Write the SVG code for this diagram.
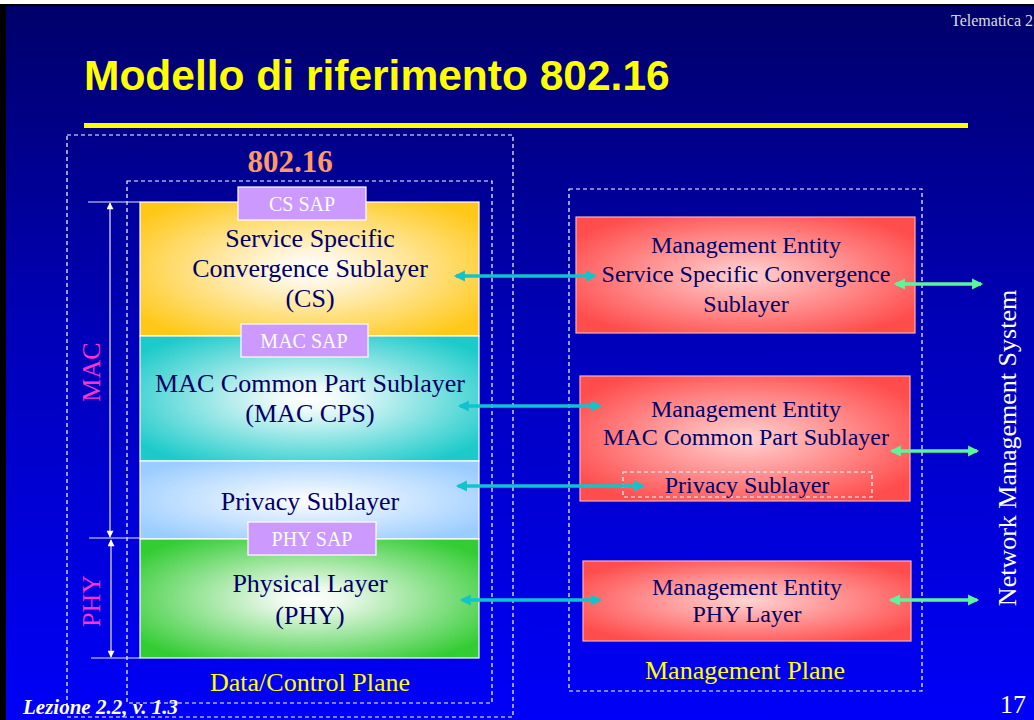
<svg xmlns="http://www.w3.org/2000/svg" width="1034" height="720" viewBox="0 0 1034 720">
<defs>
<linearGradient id="bg" x1="0" y1="0" x2="0" y2="1">
<stop offset="0" stop-color="#00006a"/>
<stop offset="0.45" stop-color="#0000b8"/>
<stop offset="1" stop-color="#0000f8"/>
</linearGradient>
<radialGradient id="gY" cx="0.5" cy="0.5" r="0.62"><stop offset="0" stop-color="#ffffff"/><stop offset="0.15" stop-color="#fff8e8"/><stop offset="1" stop-color="#ffc818"/></radialGradient>
<radialGradient id="gT" cx="0.5" cy="0.5" r="0.62"><stop offset="0" stop-color="#ffffff"/><stop offset="0.15" stop-color="#eefafa"/><stop offset="1" stop-color="#1ccaca"/></radialGradient>
<radialGradient id="gB" cx="0.5" cy="0.5" r="0.62"><stop offset="0" stop-color="#ffffff"/><stop offset="0.15" stop-color="#f0f7ff"/><stop offset="1" stop-color="#99ccff"/></radialGradient>
<radialGradient id="gG" cx="0.5" cy="0.5" r="0.62"><stop offset="0" stop-color="#ffffff"/><stop offset="0.15" stop-color="#eef9ee"/><stop offset="1" stop-color="#33cc33"/></radialGradient>
<radialGradient id="gR" cx="0.5" cy="0.5" r="0.6"><stop offset="0" stop-color="#ffd4d4"/><stop offset="0.2" stop-color="#ffb8b8"/><stop offset="1" stop-color="#ff4c4c"/></radialGradient>
<marker id="aC" viewBox="0 0 10 10" refX="8" refY="5" markerWidth="3.6" markerHeight="3.2" orient="auto-start-reverse" markerUnits="strokeWidth"><path d="M0,0 L10,5 L0,10 z" fill="#11c4cc"/></marker>
<marker id="aG" viewBox="0 0 10 10" refX="8" refY="5" markerWidth="3.6" markerHeight="3.2" orient="auto-start-reverse" markerUnits="strokeWidth"><path d="M0,0 L10,5 L0,10 z" fill="#5cf59a"/></marker>
<marker id="aW" viewBox="0 0 10 10" refX="9" refY="5" markerWidth="8" markerHeight="7" orient="auto-start-reverse" markerUnits="userSpaceOnUse"><path d="M0,0 L10,5 L0,10 z" fill="#ffffff"/></marker>
<style>
.dash{fill:none;stroke:#ffffff;stroke-width:1.2;stroke-dasharray:4 3}
.lay{stroke:#ffffff;stroke-width:1.2}
.sap{fill:#cc99ff;stroke:#ffffff;stroke-width:1.2}
.sapt{font-family:"Liberation Serif","Times New Roman",serif;font-size:20px;fill:#ffffff;text-anchor:middle}
.lt{font-family:"Liberation Serif","Times New Roman",serif;font-size:26px;fill:#000066;text-anchor:middle}
.mt{font-family:"Liberation Serif","Times New Roman",serif;font-size:24px;fill:#000066;text-anchor:middle}
.me{fill:url(#gR);stroke:#ffb0b0;stroke-width:1.2}
.yl{font-family:"Liberation Serif","Times New Roman",serif;font-size:26px;fill:#ffff00;text-anchor:middle}
.cy{stroke:#11c4cc;stroke-width:3.5;fill:none;marker-start:url(#aC);marker-end:url(#aC)}
.gr{stroke:#5cf59a;stroke-width:3.5;fill:none;marker-start:url(#aG);marker-end:url(#aG)}
.br{stroke:#e8e8ff;stroke-width:1.2;fill:none}
</style>
</defs>
<rect x="0" y="0" width="1034" height="720" fill="#ffffff"/>
<rect x="0" y="4" width="1034" height="716" fill="#000000"/>
<rect x="6" y="6" width="1028" height="714" fill="url(#bg)"/>

<g id="header">
<text x="84" y="90" font-family="'Liberation Sans',Arial,sans-serif" font-weight="bold" font-size="42.5" fill="#ffff00">Modello di riferimento 802.16</text>
<rect x="84" y="123" width="884" height="5" fill="#ffff00"/>
<text x="1033" y="26" font-family="'Liberation Serif','Times New Roman',serif" font-size="16" fill="#dddddd" text-anchor="end">Telematica 2</text>
<text x="23" y="714" font-family="'Liberation Serif','Times New Roman',serif" font-size="21" font-weight="bold" font-style="italic" fill="#ffffff">Lezione 2.2, v. 1.3</text>
<text x="1013" y="713" font-family="'Liberation Serif','Times New Roman',serif" font-size="26" fill="#ffffff" text-anchor="middle">17</text>
</g>

<g id="data-control-plane">
<rect class="dash" x="67" y="135" width="446" height="582"/>
<text class="yl" x="310" y="691">Data/Control Plane</text>
</g>
<g id="std-802-16">
<rect class="dash" x="127" y="181" width="365" height="522"/>
<text x="290" y="172" font-family="'Liberation Serif','Times New Roman',serif" font-size="31" font-weight="bold" fill="#ff9966" text-anchor="middle">802.16</text>
</g>

<g id="cs-layer">
<rect class="lay" x="140" y="202" width="339" height="134" fill="url(#gY)"/>
<text class="lt" x="310" y="247">Service Specific</text>
<text class="lt" x="310" y="277">Convergence Sublayer</text>
<text class="lt" x="310" y="307">(CS)</text>
</g>
<g id="mac-cps-layer">
<rect class="lay" x="140" y="336" width="339" height="125" fill="url(#gT)"/>
<text class="lt" x="310" y="392">MAC Common Part Sublayer</text>
<text class="lt" x="310" y="422">(MAC CPS)</text>
</g>
<g id="privacy-layer">
<rect class="lay" x="140" y="461" width="339" height="78" fill="url(#gB)"/>
<text class="lt" x="310" y="510">Privacy Sublayer</text>
</g>
<g id="phy-layer">
<rect class="lay" x="140" y="539" width="339" height="119" fill="url(#gG)"/>
<text class="lt" x="310" y="592">Physical Layer</text>
<text class="lt" x="310" y="624">(PHY)</text>
</g>
<g id="cs-sap">
<rect class="sap" x="238" y="187" width="128" height="33"/>
<text class="sapt" x="302" y="211">CS SAP</text>
</g>
<g id="mac-sap">
<rect class="sap" x="241" y="324" width="127" height="33"/>
<text class="sapt" x="304" y="348">MAC SAP</text>
</g>
<g id="phy-sap">
<rect class="sap" x="248" y="522" width="128" height="33"/>
<text class="sapt" x="312" y="546">PHY SAP</text>
</g>

<g id="mac-bracket">
<line class="br" x1="88" y1="202" x2="140" y2="202"/>
<line class="br" x1="89" y1="538" x2="140" y2="538"/>
<line class="br" x1="91" y1="658" x2="140" y2="658"/>
<line class="br" x1="110" y1="203" x2="110" y2="537" marker-start="url(#aW)" marker-end="url(#aW)"/>
<text x="0" y="0" transform="translate(100,372) rotate(-90)" font-family="'Liberation Serif','Times New Roman',serif" font-size="26" fill="#ff33cc" text-anchor="middle">MAC</text>
</g>
<g id="phy-bracket">
<line class="br" x1="111" y1="540" x2="111" y2="657" marker-start="url(#aW)" marker-end="url(#aW)"/>
<text x="0" y="0" transform="translate(100,601) rotate(-90)" font-family="'Liberation Serif','Times New Roman',serif" font-size="26" fill="#ff33cc" text-anchor="middle">PHY</text>
</g>

<g id="management-plane">
<rect class="dash" x="569" y="189" width="353" height="502"/>
<text class="yl" x="745" y="679">Management Plane</text>
</g>
<g id="me-cs">
<rect class="me" x="576" y="217" width="339" height="116"/>
<text class="mt" x="746" y="253">Management Entity</text>
<text class="mt" x="746" y="282">Service Specific Convergence</text>
<text class="mt" x="746" y="312">Sublayer</text>
</g>
<g id="me-mac">
<rect class="me" x="580" y="376" width="330" height="125"/>
<text class="mt" x="746" y="417">Management Entity</text>
<text class="mt" x="746" y="445">MAC Common Part Sublayer</text>
<rect class="dash" x="623" y="472" width="249" height="25"/>
<text class="mt" x="747" y="493">Privacy Sublayer</text>
</g>
<g id="me-phy">
<rect class="me" x="583" y="561" width="328" height="80"/>
<text class="mt" x="747" y="595">Management Entity</text>
<text class="mt" x="747" y="622">PHY Layer</text>
</g>
<g id="nms">
<text x="0" y="0" transform="translate(1016,448) rotate(-90)" font-family="'Liberation Serif','Times New Roman',serif" font-size="26" fill="#ffffff" text-anchor="middle">Network Management System</text>
</g>

<g id="connectors">
<line class="cy" x1="456" y1="276" x2="595" y2="276"/>
<line class="cy" x1="460" y1="406" x2="600" y2="406"/>
<line class="cy" x1="458" y1="486" x2="643" y2="486"/>
<line class="cy" x1="462" y1="600" x2="600" y2="600"/>
<line class="gr" x1="896" y1="284" x2="981" y2="284"/>
<line class="gr" x1="892" y1="451" x2="977" y2="451"/>
<line class="gr" x1="891" y1="600" x2="977" y2="600"/>
</g>
</svg>
